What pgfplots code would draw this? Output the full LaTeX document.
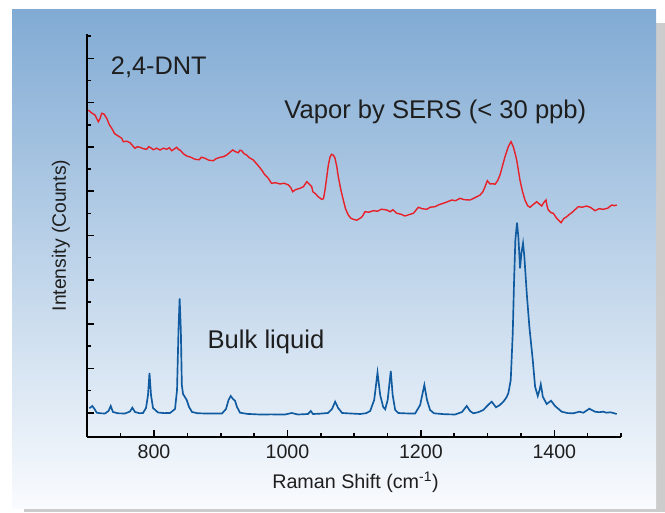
\documentclass[border=0pt]{standalone}
\usepackage{fontspec}
\setmainfont{Liberation Sans}
\usepackage{pgfplots}
\pgfplotsset{compat=1.18}

\definecolor{bgtop}{RGB}{129,171,212}
\definecolor{bgbot}{RGB}{249,251,254}
\definecolor{shadowgray}{RGB}{204,204,204}
\definecolor{vapor}{RGB}{232,32,40}
\definecolor{bulk}{RGB}{16,90,160}
\definecolor{txt}{RGB}{30,30,30}

\begin{document}
\begin{tikzpicture}[x=0.75pt,y=0.75pt]
\useasboundingbox (0,0) rectangle (665,512);
% drop shadow and gradient panel
\fill[shadowgray] (24,0) rectangle (665,489);
\shade[top color=bgtop,bottom color=bgbot] (12,4) rectangle (656,502);

\begin{axis}[
  at={(65.475pt,56.475pt)},anchor=south west,
  width=400.3pt,height=301.8pt,scale only axis,
  xmin=700,xmax=1500,ymin=0,ymax=402.4,
  axis lines=left,axis line style={-,line width=1.6pt,black},
  tick align=inside,
  tick style={line width=1.2pt,black},
  major tick length=5pt,minor tick length=2.6pt,
  xtick={800,1000,1200,1400},xticklabels={800,1000,1200,1400},
  minor xtick={750,850,900,950,1050,1100,1150,1250,1300,1350,1450,1500},
  ytick={24,68.3,112.6,156.9,201.2,245.5,289.8,334.1,378.4},
  minor ytick={46.2,90.5,134.8,179.1,223.4,267.7,312,356.3,400.6},
  yticklabels={},
  xticklabel style={anchor=base,yshift=-16pt,text=txt,font=\fontsize{14.7}{17}\selectfont},
  xlabel={Raman Shift (cm\textsuperscript{-1})},
  ylabel={Intensity (Counts)},
  xlabel style={at={(axis description cs:0.5025,-0.1275)},anchor=base,text=txt,font=\fontsize{14.8}{17}\selectfont},
  ylabel style={at={(axis description cs:-0.04,0.5)},anchor=base,text=txt,font=\fontsize{14.5}{17}\selectfont},
]
% vapor (SERS) spectrum
\addplot[vapor,line width=1.05pt] coordinates {
(701.5,326.7)(706,324)(711.5,321.7)(716.5,315)(719,318)(721.6,323.4)(725,322.7)
(729.1,318.4)(733,312)(736.6,308.4)(741,303)(744.1,301.7)(748,300)(751.6,298.4)
(754,295)(759,295.5)(764,294)(768,291)(771.5,288.4)(775,290)(779,289.4)
(784,288)(789,287.4)(792,290)(794,289.4)(799,287)(804,288.5)(809,286.7)
(814,288.5)(819,287.4)(823,289)(826.5,286)(830,287.5)(834,289.4)(837,287)
(839,286.7)(844,283)(849,280.7)(855,279.5)(861.5,277.4)(868,277)(871,279.5)
(876.5,278.4)(882,276.5)(888.9,276)(893,278)(898.9,279.4)(904,280)(909,281.7)
(913,284)(918,286.7)(922,285)(926.3,284)(929,286.5)(931.4,286)(935,283)
(938.9,281.7)(943,279)(948.8,276.7)(955,272)(961.4,266.7)(966,262)(971.3,258.4)
(976.1,253.4)(982,254)(988.9,252.7)(995,253.5)(1001.6,251.7)(1005,249)
(1007.9,245)(1012,247)(1018.8,248.4)(1024,250)(1028.9,255)(1032,253)
(1036.4,250)(1038,245)(1041.3,243.4)(1046,240)(1051.4,237.4)(1054,238)
(1056.3,246.7)(1059,260)(1061.3,271.7)(1064,280)(1066.3,282.4)(1069,281.5)
(1071.3,278.4)(1074,270)(1076.2,260)(1080,247)(1083.7,236.7)(1087,228)
(1091.2,221.7)(1095,218.5)(1098.7,217.4)(1104,216.5)(1108.8,218.4)(1112,220)
(1116.3,225)(1122,224.5)(1128.7,226)(1135,225.5)(1141,227.5)(1148.8,226.7)
(1154,225)(1158,227)(1163.8,223.4)(1170,222.5)(1176.2,220.7)(1182,222)
(1188.7,223.4)(1192,226)(1196.2,229.4)(1202,228)(1208.8,227.4)(1214,229.5)
(1221.2,230)(1227,232)(1233.6,233.4)(1240,235)(1246.2,236.7)(1252,236)
(1258.7,238.4)(1265,237)(1273.7,236.7)(1281,239)(1288.7,241.7)(1293,245)
(1296.2,250)(1299.6,256)(1303.6,252.7)(1308,253)(1311.1,252.4)(1315,256)
(1318.6,261.7)(1322,270)(1326.1,280)(1331,290)(1335.1,295)(1338.5,290)
(1341,284)(1343.6,276.7)(1346,267)(1348.5,256.7)(1352,246)(1356,236.7)
(1360,231)(1363.5,229.4)(1368,232)(1373.6,235)(1377,233)(1381.1,230.7)
(1384,234)(1387.6,236.7)(1389,231)(1391,226.7)(1395,224)(1398.5,223.4)
(1404,218)(1410.1,214)(1414,218)(1418.6,220)(1422,222)(1426.1,224)
(1431,227)(1436,230)(1442,229.5)(1448.6,230.7)(1455,229)(1461,226)
(1467,228)(1473.5,227.4)(1480,228.5)(1486.1,231.7)(1490,231)(1493.6,231.7)
};
% bulk liquid spectrum
\addplot[bulk,line width=1.25pt] coordinates {
(703,28.4)(707.5,30.7)(710.5,28)(714.1,24)(720,23.4)(726.5,23.2)(731.8,25.7)
(735.1,30.7)(738.5,24.7)(746,23.4)(756.5,23.2)(764,25.2)(767.5,29)(771.5,24.7)
(778,23.5)(783.5,23.7)(788,28.7)(791,41.7)(793.2,63.7)(795.5,41.7)(798.5,28.7)
(806,24.2)(815,23.6)(824,23.7)(831.5,27.7)(834.5,46.7)(836.7,106.7)(838.4,138.4)
(840.2,106.7)(841.7,51.7)(843.5,42.7)(846,40)(849,36.7)(852.5,29.7)(857,24.7)
(865,23.5)(876.5,23.2)(890,23.2)(901.9,23.2)(907.9,27.7)(911.7,36.7)(915,40.7)
(918.4,37.7)(921.4,36)(924.4,29.7)(928.9,24)(940,22.8)(958.9,22.2)(975,22.3)
(996.4,22.2)(1006.4,23.7)(1015.8,22.2)(1030.8,22.7)(1034.9,25.7)(1038.3,22.7)
(1048,23)(1060.8,23.7)(1066.8,27.7)(1071.5,35)(1076,28.7)(1082,23.7)(1095,23.2)
(1109,22.7)(1118,23.5)(1124,25.7)(1130,36.7)(1135,64)(1139,41.7)(1143.5,29.7)
(1146.5,27.4)(1150.2,36.7)(1154.9,65.7)(1157.7,41.7)(1161.5,26.7)(1166,23.7)
(1178,23.3)(1191.4,23.2)(1198.9,31.7)(1205.2,51.7)(1209.2,36.7)(1213.8,26.7)
(1219.7,23.4)(1235,22.5)(1251.2,22.2)(1261.7,24.7)(1268.7,30.7)(1273.7,25.7)
(1278.6,23.4)(1286,24.5)(1293.6,26.7)(1300.7,31.7)(1306.2,35)(1312.6,29.4)
(1318,31.5)(1323.6,35)(1328,39)(1331.1,43.4)(1334.7,56.7)(1337.7,103.4)
(1339.6,153.4)(1341.6,196.7)(1344.1,214)(1346.1,200)(1348.7,168.4)(1350.6,183.4)
(1353.1,193.4)(1355.1,180)(1358.7,143.4)(1362.6,110)(1367.7,76.7)(1371.2,50)
(1375.2,40.7)(1377.9,46.7)(1379.7,52.4)(1381.7,44.7)(1382.7,40)(1388.6,32.7)
(1395.1,36)(1401.1,30.7)(1411.1,25)(1420,23.6)(1428.5,23.4)(1437.5,25)
(1443.5,24)(1452.5,28)(1461,25)(1467,24.5)(1473.5,25)(1478,24)(1483.5,24.4)
(1488,23.8)(1493.5,22.7)
};
\node[anchor=base west,inner sep=0pt,text=txt,font=\fontsize{19}{22}\selectfont] at (axis cs:735,362.7) {2,4-DNT};
\node[anchor=base west,inner sep=0pt,text=txt,font=\fontsize{19.2}{22}\selectfont] at (axis cs:995,318.4) {Vapor by SERS (< 30 ppb)};
\node[anchor=base west,inner sep=0pt,text=txt,font=\fontsize{19.2}{22}\selectfont] at (axis cs:880,88.7) {Bulk liquid};
\end{axis}
\end{tikzpicture}
\end{document}
